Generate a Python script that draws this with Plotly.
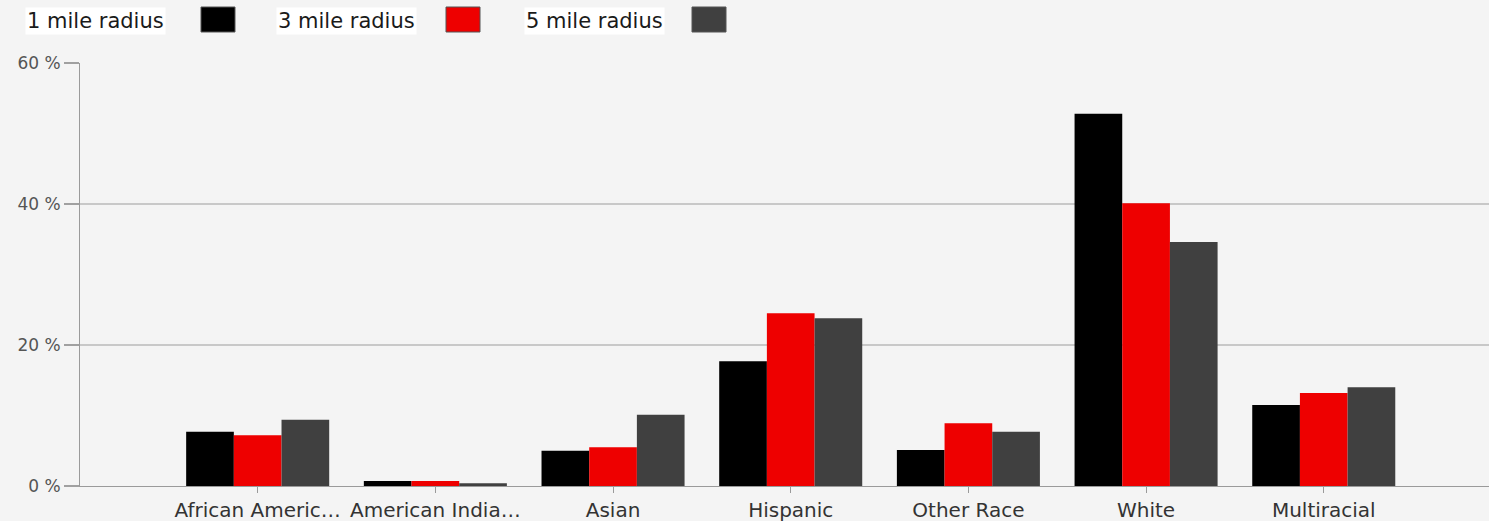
import plotly.graph_objects as go

# Population share by race, for three radii around the site
categories = ["African Americ…", "American India…", "Asian", "Hispanic",
              "Other Race", "White", "Multiracial"]
series_names = ["1 mile radius", "3 mile radius", "5 mile radius"]
radius_1 = [7.7, 0.7, 5.0, 17.7, 5.1, 52.8, 11.5]
radius_3 = [7.2, 0.7, 5.5, 24.5, 8.9, 40.1, 13.2]
radius_5 = [9.4, 0.4, 10.1, 23.8, 7.7, 34.6, 14.0]
y_ticks = [0, 20, 40, 60]
y_tick_labels = ["0 %", "20 %", "40 %", "60 %"]

colors = ["#000000", "#ee0000", "#404040"]
FONT = "DejaVu Sans, sans-serif"

W, H = 1489, 521
M_L, M_R, M_T, M_B = 80, 0, 63, 35
plot_w = W - M_L - M_R
plot_h = H - M_T - M_B

fig = go.Figure()
for name, vals, col in zip(series_names, [radius_1, radius_3, radius_5], colors):
    fig.add_trace(go.Bar(
        x=categories, y=vals, name=name,
        marker=dict(color=col, line=dict(width=0)),
        showlegend=False,
    ))

def px_to_paper_x(px):
    return (px - M_L) / plot_w

def px_to_paper_y(py):
    return (H - M_B - py) / plot_h

# Custom legend: label first, then a colour swatch
legend_items = [(27, 201), (278, 446), (526, 692)]
annotations = []
shapes = []
for (tx, sx), name, col in zip(legend_items, series_names, colors):
    annotations.append(dict(
        x=px_to_paper_x(tx - 2), y=px_to_paper_y(21), xref="paper", yref="paper",
        xanchor="left", yanchor="middle", text=name, showarrow=False,
        font=dict(family=FONT, size=21, color="#1a1a1a"),
        bgcolor="#ffffff", borderpad=1,
    ))
    shapes.append(dict(
        type="rect", xref="paper", yref="paper",
        x0=px_to_paper_x(sx), x1=px_to_paper_x(sx + 34),
        y0=px_to_paper_y(32), y1=px_to_paper_y(7),
        fillcolor=col, line=dict(color="#555555", width=1),
    ))

fig.update_layout(
    width=W, height=H,
    margin=dict(l=M_L, r=M_R, t=M_T, b=M_B),
    paper_bgcolor="#f4f4f4", plot_bgcolor="#f4f4f4",
    barmode="group", bargap=0.195, bargroupgap=0,
    annotations=annotations, shapes=shapes,
    font=dict(family=FONT),
)
fig.update_xaxes(
    type="category", range=[-1.0, 6.93],
    showgrid=False, showline=True, linecolor="#9a9a9a", linewidth=1,
    ticks="outside", ticklen=6, tickcolor="#9a9a9a",
    tickfont=dict(family=FONT, size=20, color="#333333"),
)
fig.update_yaxes(
    range=[0, 60], tickmode="array", tickvals=y_ticks, ticktext=y_tick_labels,
    showgrid=True, gridcolor="#c8c8c8", gridwidth=2,
    showline=True, linecolor="#9a9a9a", linewidth=1,
    ticks="outside", ticklen=15, tickwidth=2, tickcolor="#a0a0a0",
    tickfont=dict(family=FONT, size=17, color="#555555"),
    zeroline=False,
)

fig.write_html("out.html")
